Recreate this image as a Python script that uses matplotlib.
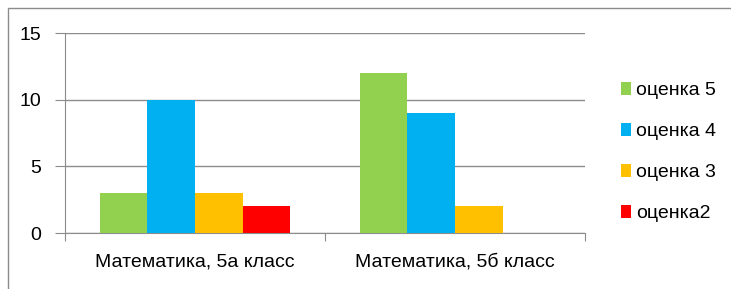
import numpy as np
import matplotlib.pyplot as plt
from matplotlib.patches import Rectangle

categories = ['Математика, 5а класс', 'Математика, 5б класс']
series = ['оценка 5', 'оценка 4', 'оценка 3', 'оценка2']
values = [
    [3, 12],   # оценка 5
    [10, 9],   # оценка 4
    [3, 2],    # оценка 3
    [2, 0],    # оценка2
]
colors = ['#92D050', '#00B0F0', '#FFC000', '#FF0000']

plt.rcParams['font.family'] = ['Liberation Sans', 'DejaVu Sans']

fig = plt.figure(figsize=(7.31, 2.89), dpi=100)
W, H = 731, 289
ax = fig.add_axes([65 / W, 1 - 233 / H, 520 / W, 200 / H])

# outer frame of the chart area
fig.patches.append(Rectangle((8 / W, -0.1), 1.1, 1 - 8 / H + 0.1, transform=fig.transFigure,
                             fill=False, edgecolor='#8c8c8c', linewidth=1.0))

x = np.arange(len(categories))
bw = 0.183
for i, (name, vals, c) in enumerate(zip(series, values, colors)):
    ax.bar(x + (i - 1.5) * bw, vals, width=bw, color=c, label=name, zorder=3)

ax.set_xlim(-0.5, 1.5)
ax.set_ylim(0, 15)
ax.set_yticks([0, 5, 10, 15])
ax.yaxis.grid(True, color='#8c8c8c', linewidth=1.0, zorder=0)
ax.set_xticks([-0.5, 0.5, 1.5])
ax.set_xticklabels([])
ax.set_xticks(x, minor=True)
ax.set_xticklabels(categories, minor=True, fontsize=14)
ax.tick_params(axis='x', which='minor', length=0, pad=15)
ax.tick_params(axis='x', which='major', length=6, color='#8c8c8c')
ax.tick_params(axis='y', length=7, color='#8c8c8c', labelsize=14, pad=10)

for s in ['top', 'right']:
    ax.spines[s].set_visible(False)
for s in ['left', 'bottom']:
    ax.spines[s].set_color('#8c8c8c')

ax.legend(loc='center left', bbox_to_anchor=(1.035, 0.405), frameon=False,
          fontsize=14, handlelength=0.55, handleheight=0.65, handletextpad=0.25,
          labelspacing=1.22)

fig.savefig('out.png', dpi=100)
